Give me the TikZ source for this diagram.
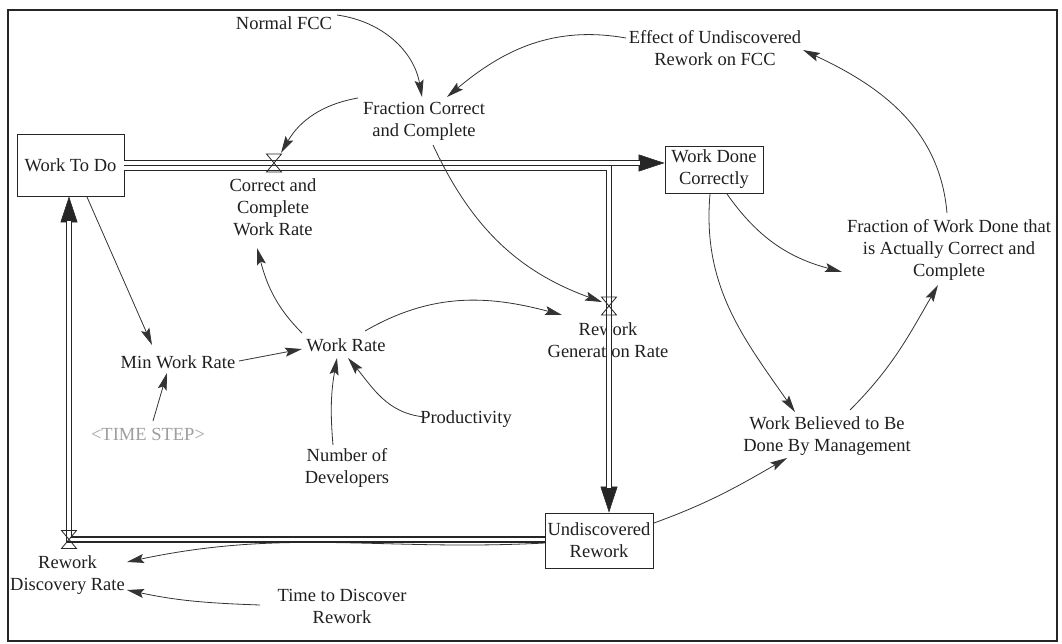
\documentclass[tikz,border=0pt]{standalone}
\usepackage{fontspec}
\setmainfont{Liberation Serif}
\usetikzlibrary{arrows.meta,calc}
\begin{document}
\begin{tikzpicture}[x=1pt,y=1pt,
  lab/.style={font=\fontsize{18.5}{22}\selectfont, align=center, inner sep=1pt, text=black!88},
  stock/.style={lab, draw=black!85, line width=0.9pt},
  link/.style={draw=black!80, line width=0.8pt, -{Stealth[length=17pt,width=9pt,inset=3pt]}},
  pipeout/.style={draw=black!85, line width=6.2pt, line join=miter},
  pipein/.style={draw=white, line width=3.8pt, line join=miter},
  pipehead/.style={draw=black!85, line width=0.5pt, -{Triangle[length=26pt,width=17pt]}},
  valvedraw/.style={draw=black!85, line width=0.8pt, line join=miter},
  valve/.pic={
    \draw[valvedraw] (-7.5,9) -- (7.5,9) -- (0,0) -- cycle;
    \draw[valvedraw] (-7.5,-9) -- (7.5,-9) -- (0,0) -- cycle;
  }]
\useasboundingbox (0,0) rectangle (1062,-644);
\draw[draw=black!85, line width=1.6pt] (8,-10) rectangle (1057,-641);

% stocks
\node[stock, minimum width=107pt, minimum height=62pt] (wtd) at (70.5,-165) {Work To Do};
\node[stock, minimum width=98pt, minimum height=47pt] (wdc) at (714,-169.5) {Work Done\\Correctly};
\node[stock, minimum width=108pt, minimum height=55pt] (ur) at (599,-540.5) {Undiscovered\\Rework};

% valves on the flows
\coordinate (v1) at (274,-163);
\coordinate (v2) at (609,-306);
\coordinate (v3) at (69,-539.5);

% auxiliaries and rate labels
\node[lab] (nfcc) at (284,-23) {Normal FCC};
\node[lab] (fcc) at (424,-121.5) {Fraction Correct\\and Complete};
\node[lab] (euf) at (715,-48) {Effect of Undiscovered\\Rework on FCC};
\node[lab] (ccwr) at (273,-207) {Correct and\\Complete\\Work Rate};
\node[lab] (fwd) at (949,-250) {Fraction of Work Done that\\is Actually Correct and\\Complete};
\node[lab] (mwr) at (178,-362) {Min Work Rate};
\node[lab] (wr) at (346,-345) {Work Rate};
\node[lab] (rgr) at (608,-340.5) {Rework\\Generation Rate};
\node[lab, text=black!38] (ts) at (148,-434) {<TIME STEP>};
\node[lab] (prod) at (466,-419) {Productivity};
\node[lab] (nod) at (347,-467.5) {Number of\\Developers};
\node[lab] (wbm) at (827,-436.5) {Work Believed to Be\\Done By Management};
\node[lab] (rdr) at (67.5,-575) {Rework\\Discovery Rate};
\node[lab] (tdr) at (342,-606) {Time to Discover\\Rework};

% link running beside the discovery flow
\draw[link] ($(ur)+(-54,-2.5)$) to[out=183, in=12] ($(rdr)+(59.5,13)$);

% flow into Undiscovered Rework
\draw[pipehead] ($(v2|-ur.north)+(0,30)$) -- (v2|-ur.north);
\draw[pipeout, shorten >=25pt] (wtd.east|-0,-168) -- (v2|-0,-168) -- (v2|-ur.north);
\draw[pipein, shorten >=25pt] (wtd.east|-0,-168) -- (v2|-0,-168) -- (v2|-ur.north);
% flow into Work Done Correctly
\draw[pipehead] ($(wdc.west|-v1)+(-30,0)$) -- (wdc.west|-v1);
\draw[pipeout, shorten >=25pt] (wtd.east|-v1) -- (wdc.west|-v1);
\draw[pipein, shorten >=25pt] (wtd.east|-v1) -- (wdc.west|-v1);
% flow back into Work To Do
\draw[pipehead] ($(v3|-wtd.south)+(0,-30)$) -- (v3|-wtd.south);
\draw[pipeout, shorten >=25pt] (ur.west|-v3) -- (v3) -- (v3|-wtd.south);
\draw[pipein, shorten >=25pt] (ur.west|-v3) -- (v3) -- (v3|-wtd.south);

\pic at (v1) {valve};
\pic at (v2) {valve};
\pic at (v3) {valve};

% information links
\draw[link] ($(nfcc)+(53,8)$) to[out=-8, in=100] ($(fcc)+(-2,24.5)$);
\draw[link] ($(euf)+(-89,10)$) to[out=170, in=40] ($(fcc)+(23,24.5)$);
\draw[link] ($(fcc)+(-66,23.5)$) to[out=190, in=60] ($(v1)+(7,10)$);
\draw[link] ($(fcc)+(9,-23.5)$) to[out=-65, in=160] ($(v2)+(-7,4)$);
\draw[link] ($(wr)+(-44,12)$) to[out=135, in=-75] ($(ccwr)+(-16,-41)$);
\draw[link] ($(wr)+(19,14)$) to[out=30, in=165] ($(rgr)+(-46,25.5)$);
\draw[link] ($(wtd)+(16.5,-32)$) -- ($(mwr)+(-26,17)$);
\draw[link] ($(ts)+(5,13)$) -- ($(mwr)+(-11,-11)$);
\draw[link] ($(mwr)+(61,1)$) -- ($(wr)+(-44,-4)$);
\draw[link] ($(nod)+(-14,22.5)$) to[out=95, in=-100] ($(wr)+(-9,-13)$);
\draw[link] ($(prod)+(-41,2)$) to[out=175, in=-50] ($(wr)+(2,-13)$);
\draw[link] ($(wdc)+(13,-24.5)$) to[out=-55, in=165] ($(fwd)+(-107,-22)$);
\draw[link] ($(wdc)+(-4,-24.5)$) to[out=-95, in=125] ($(wbm)+(-32,24.5)$);
\draw[link] ($(wbm)+(23,26.5)$) to[out=45, in=-120] ($(fwd)+(-11,-35)$);
\draw[link] ($(fwd)+(-2,37)$) to[out=95, in=-25] ($(euf)+(88,-2)$);
\draw[link] ($(ur)+(55,17.5)$) to[out=20, in=-150] ($(wbm)+(-40,-21.5)$);
\draw[link] ($(tdr)+(-82,1)$) to[out=178, in=-12] ($(rdr)+(59.5,-15)$);
\end{tikzpicture}
\end{document}
